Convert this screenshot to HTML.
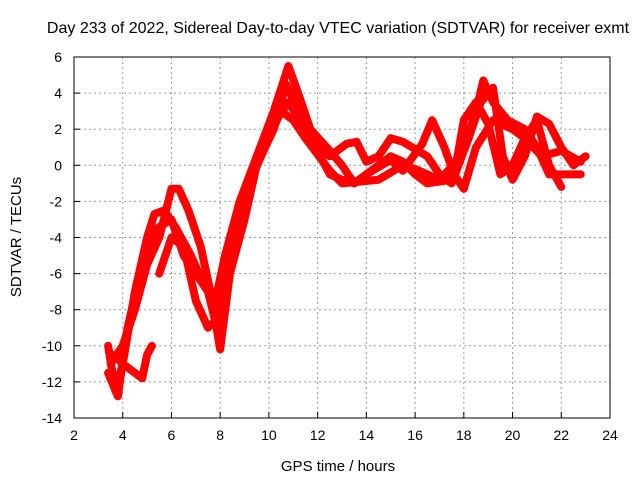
<!DOCTYPE html>
<html><head><meta charset="utf-8"><style>
body{margin:0;background:#fff;}
svg{display:block;font-family:"Liberation Sans",sans-serif;}
</style></head><body>
<svg id="c" width="640" height="480" viewBox="0 0 640 480">
<text x="338" y="33" text-anchor="middle" font-size="16">Day 233 of 2022, Sidereal Day-to-day VTEC variation (SDTVAR) for receiver exmt</text>
<text x="338" y="471" text-anchor="middle" font-size="15">GPS time / hours</text>
<text transform="translate(21,237) rotate(-90)" text-anchor="middle" font-size="15">SDTVAR / TECUs</text>
<g id="grid"></g><g id="series"></g>
<rect x="74" y="57" width="536" height="361" fill="none" stroke="#000"/>
</svg>
<script>
const xTicks=[2,4,6,8,10,12,14,16,18,20,22,24];
const yTicks=[6,4,2,0,-2,-4,-6,-8,-10,-12,-14];
const trackA=[[3.4,-10],[3.7,-12.5],[4.0,-11],[4.5,-7],[5.0,-4],[5.3,-2.7],[5.7,-2.5],[6.2,-3.5],[6.8,-5],[7.3,-6.5],[7.8,-7.5],[8.2,-5],[8.8,-2],[9.5,0.5],[10.2,3],[10.8,5.5],[11.2,4],[11.7,2],[12.5,0.8],[13.0,0],[13.5,-1],[14.2,-0.3],[15,0.5],[15.5,0.2],[16,-0.5],[16.5,-1],[17.5,-0.8],[18.0,1],[18.5,3],[18.8,4.7],[19.2,3.5],[19.8,2.5],[20.5,2],[21.0,1],[21.5,-0.5],[22,-0.5],[22.8,-0.5]];
const trackB=[[3.4,-11.5],[3.8,-12.8],[4.2,-9],[4.8,-5.5],[5.4,-3.5],[6.0,-3],[6.5,-5],[7.0,-6],[7.5,-7],[7.9,-9.2],[8.3,-6],[9.0,-2],[9.7,1],[10.3,2.5],[10.8,3.5],[11.5,2],[12,0.8],[12.5,-0.5],[13,-0.8],[13.5,-1],[14,-0.5],[15,0.3],[15.5,-0.3],[16.3,1.2],[16.7,2.5],[17.2,1],[17.6,-0.5],[18.0,-1.3],[18.5,1],[19.2,2.5],[20,2],[20.5,1.5],[21.2,0.5],[22,0.8],[22.8,0.2]];
const trackC=[[3.6,-10.5],[4.0,-11],[4.5,-11.5],[4.8,-11.8],[5.0,-10.5],[5.2,-10]];
const trackD=[[3.5,-11],[4,-10],[4.5,-8],[5.0,-5.5],[5.5,-4],[6,-1.3],[6.3,-1.3],[6.7,-2.5],[7.2,-4.5],[7.6,-7],[8.0,-10.2],[8.4,-6],[9,-3],[9.5,0],[10.2,2],[10.7,4.5],[11.2,3],[11.8,1.5],[12.5,0.5],[13.2,1.2],[13.6,1.3],[14,0.2],[14.5,0.5],[15,1.5],[15.5,1.3],[16.5,0.5],[17,-0.5],[17.5,-1],[18.2,1.5],[18.7,3.5],[19.2,4.3],[19.6,0.5],[20,-0.8],[20.5,0.5],[21,2.7],[21.5,2.3],[22,1.0],[22.5,0],[23,0.5]];
const trackE=[[5.5,-6],[6.0,-4],[6.5,-4.5],[7,-7.5],[7.5,-9],[7.9,-8.5],[8.4,-5],[9.2,-1],[10.0,1.5],[10.5,3],[11,2.5],[11.5,1.5],[12.5,-0.3],[13,-1],[14.5,-0.8],[15.5,0],[16,-0.2],[17,-0.8],[17.7,0.2],[18,2.5],[18.5,3.5],[19,2.3],[19.5,-0.5],[20,0],[20.5,1.5],[21,2.5],[21.5,0],[22,-1.2]];
const tracks=[trackA,trackB,trackC,trackD,trackE];
const NS='http://www.w3.org/2000/svg';
const X0=74,X1=610,Y0=418,Y1=57;
function sx(v){return X0+(v-2)/(24-2)*(X1-X0);}
function sy(v){return Y0-(v+14)/(6+14)*(Y0-Y1);}
const g=document.getElementById('grid');
function mk(tag,attrs,parent){const e=document.createElementNS(NS,tag);for(const k in attrs)e.setAttribute(k,attrs[k]);parent.appendChild(e);return e;}
xTicks.forEach(t=>{
 const x=sx(t);
 if(t>2&&t<24){const l=mk('line',{x1:x,x2:x,y1:Y1,y2:Y0,stroke:'#999','stroke-dasharray':'2,3'},g);
 
 }
 const tk=mk('line',{x1:x,x2:x,y1:Y0,y2:Y0-6,stroke:'#000'},g);
 
 
 const tx=mk('text',{x:x,y:Y0+22,'text-anchor':'middle','font-size':14},g);tx.textContent=t;
 
 
});
yTicks.forEach(t=>{
 const y=sy(t);
 if(t>-14&&t<6){const l=mk('line',{x1:X0,x2:X1,y1:y,y2:y,stroke:'#999','stroke-dasharray':'2,3'},g);
 
 }
 const tk=mk('line',{x1:X0,x2:X0+6,y1:y,y2:y,stroke:'#000'},g);
 
 
 const tx=mk('text',{x:X0-12,y:y+5,'text-anchor':'end','font-size':14},g);tx.textContent=t;
 
 
});
const s=document.getElementById('series');
tracks.forEach((tr,i)=>{
 const p=mk('polyline',{points:tr.map(d=>sx(d[0])+','+sy(d[1])).join(' '),fill:'none',stroke:'#f00','stroke-width':8,'stroke-linejoin':'round','stroke-linecap':'round'},s);
 
 
});
</script>
</body></html>
